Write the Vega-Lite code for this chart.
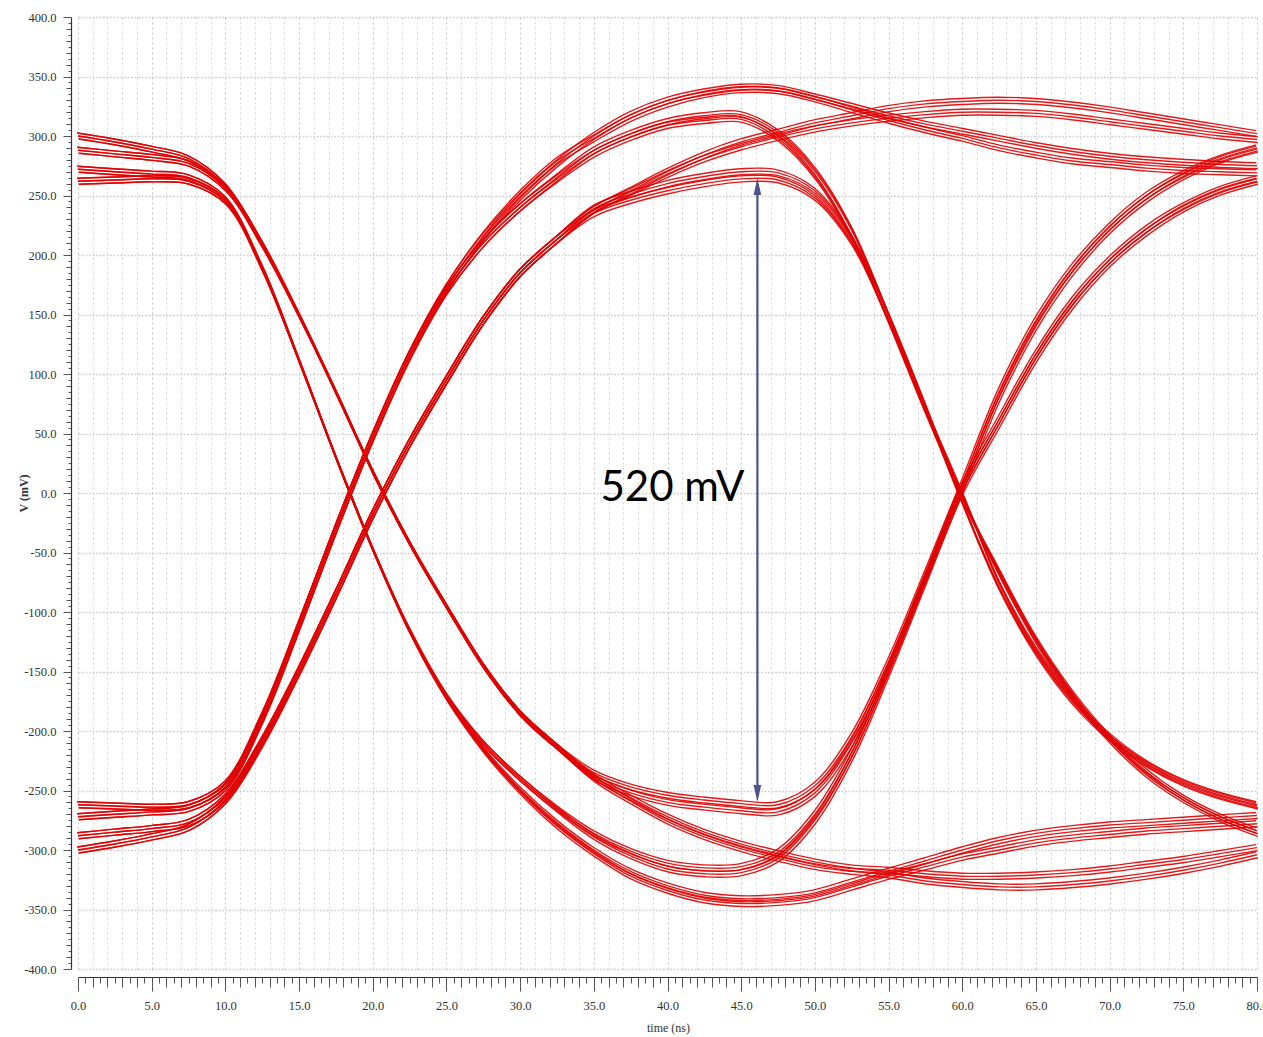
{
"$schema": "https://vega.github.io/schema/vega-lite/v6.json",
"width": 1179, "height": 952,
"autosize": {"type": "none"},
"padding": {"left": 78, "top": 17, "right": 6, "bottom": 68},
"background": "white",
"config": {"view": {"stroke": null}, "font": "Liberation Serif"},
"datasets": {
"ann": [{"t": 46.1, "v": 257.6, "v2": -252.5}],
"lab": [{"t": 35.45, "v": -7, "label": "520 mV"}],
"traces": [
{"s":"p1","t":0,"v":300},{"s":"p1","t":2.5,"v":295},{"s":"p1","t":5,"v":289},{"s":"p1","t":7.5,"v":281},{"s":"p1","t":10,"v":258},{"s":"p1","t":12.5,"v":210},{"s":"p1","t":15,"v":150},{"s":"p1","t":17.5,"v":85},{"s":"p1","t":20,"v":18},{"s":"p1","t":22.5,"v":-42},{"s":"p1","t":25,"v":-95},{"s":"p1","t":27.5,"v":-145},{"s":"p1","t":30,"v":-185},{"s":"p1","t":32.5,"v":-213},{"s":"p1","t":35,"v":-235},{"s":"p1","t":37.5,"v":-247},{"s":"p1","t":40,"v":-254},{"s":"p1","t":42.5,"v":-258},{"s":"p1","t":45,"v":-261},{"s":"p1","t":47.5,"v":-262},{"s":"p1","t":50,"v":-246},{"s":"p1","t":52.5,"v":-205},{"s":"p1","t":55,"v":-142},{"s":"p1","t":57.5,"v":-68},{"s":"p1","t":60,"v":8},{"s":"p1","t":62.5,"v":85},{"s":"p1","t":65,"v":145},{"s":"p1","t":67.5,"v":190},{"s":"p1","t":70,"v":224},{"s":"p1","t":72.5,"v":250},{"s":"p1","t":75,"v":268},{"s":"p1","t":77.5,"v":281},{"s":"p1","t":80,"v":290},
{"s":"p2","t":0,"v":288},{"s":"p2","t":2.5,"v":285},{"s":"p2","t":5,"v":282},{"s":"p2","t":7.5,"v":277},{"s":"p2","t":10,"v":256},{"s":"p2","t":12.5,"v":208},{"s":"p2","t":15,"v":149},{"s":"p2","t":17.5,"v":85},{"s":"p2","t":20,"v":18},{"s":"p2","t":22.5,"v":-42},{"s":"p2","t":25,"v":-95},{"s":"p2","t":27.5,"v":-145},{"s":"p2","t":30,"v":-185},{"s":"p2","t":32.5,"v":-213},{"s":"p2","t":35,"v":-239},{"s":"p2","t":37.5,"v":-252},{"s":"p2","t":40,"v":-260},{"s":"p2","t":42.5,"v":-264},{"s":"p2","t":45,"v":-267},{"s":"p2","t":47.5,"v":-268},{"s":"p2","t":50,"v":-252},{"s":"p2","t":52.5,"v":-210},{"s":"p2","t":55,"v":-146},{"s":"p2","t":57.5,"v":-71},{"s":"p2","t":60,"v":5},{"s":"p2","t":62.5,"v":62},{"s":"p2","t":65,"v":117},{"s":"p2","t":67.5,"v":162},{"s":"p2","t":70,"v":196},{"s":"p2","t":72.5,"v":222},{"s":"p2","t":75,"v":241},{"s":"p2","t":77.5,"v":255},{"s":"p2","t":80,"v":264},
{"s":"p3","t":0,"v":300},{"s":"p3","t":2.5,"v":295},{"s":"p3","t":5,"v":289},{"s":"p3","t":7.5,"v":281},{"s":"p3","t":10,"v":258},{"s":"p3","t":12.5,"v":210},{"s":"p3","t":15,"v":150},{"s":"p3","t":17.5,"v":85},{"s":"p3","t":20,"v":18},{"s":"p3","t":22.5,"v":-42},{"s":"p3","t":25,"v":-95},{"s":"p3","t":27.5,"v":-145},{"s":"p3","t":30,"v":-185},{"s":"p3","t":32.5,"v":-213},{"s":"p3","t":35,"v":-238},{"s":"p3","t":37.5,"v":-256},{"s":"p3","t":40,"v":-272},{"s":"p3","t":42.5,"v":-285},{"s":"p3","t":45,"v":-295},{"s":"p3","t":47.5,"v":-303},{"s":"p3","t":50,"v":-310},{"s":"p3","t":52.5,"v":-315},{"s":"p3","t":55,"v":-317},{"s":"p3","t":57.5,"v":-320},{"s":"p3","t":60,"v":-322},{"s":"p3","t":62.5,"v":-322},{"s":"p3","t":65,"v":-321},{"s":"p3","t":67.5,"v":-319},{"s":"p3","t":70,"v":-316},{"s":"p3","t":72.5,"v":-312},{"s":"p3","t":75,"v":-308},{"s":"p3","t":77.5,"v":-303},{"s":"p3","t":80,"v":-298},
{"s":"p4","t":0,"v":288},{"s":"p4","t":2.5,"v":285},{"s":"p4","t":5,"v":282},{"s":"p4","t":7.5,"v":277},{"s":"p4","t":10,"v":256},{"s":"p4","t":12.5,"v":208},{"s":"p4","t":15,"v":149},{"s":"p4","t":17.5,"v":85},{"s":"p4","t":20,"v":18},{"s":"p4","t":22.5,"v":-42},{"s":"p4","t":25,"v":-95},{"s":"p4","t":27.5,"v":-145},{"s":"p4","t":30,"v":-185},{"s":"p4","t":32.5,"v":-213},{"s":"p4","t":35,"v":-240},{"s":"p4","t":37.5,"v":-259},{"s":"p4","t":40,"v":-276},{"s":"p4","t":42.5,"v":-289},{"s":"p4","t":45,"v":-299},{"s":"p4","t":47.5,"v":-307},{"s":"p4","t":50,"v":-314},{"s":"p4","t":52.5,"v":-318},{"s":"p4","t":55,"v":-321},{"s":"p4","t":57.5,"v":-326},{"s":"p4","t":60,"v":-329},{"s":"p4","t":62.5,"v":-331},{"s":"p4","t":65,"v":-331},{"s":"p4","t":67.5,"v":-329},{"s":"p4","t":70,"v":-326},{"s":"p4","t":72.5,"v":-322},{"s":"p4","t":75,"v":-317},{"s":"p4","t":77.5,"v":-311},{"s":"p4","t":80,"v":-304},
{"s":"p5","t":0,"v":272},{"s":"p5","t":2.5,"v":270},{"s":"p5","t":5,"v":268},{"s":"p5","t":7.5,"v":265},{"s":"p5","t":10,"v":247},{"s":"p5","t":12.5,"v":190},{"s":"p5","t":15,"v":112},{"s":"p5","t":17.5,"v":30},{"s":"p5","t":20,"v":-47},{"s":"p5","t":22.5,"v":-115},{"s":"p5","t":25,"v":-170},{"s":"p5","t":27.5,"v":-210},{"s":"p5","t":30,"v":-240},{"s":"p5","t":32.5,"v":-265},{"s":"p5","t":35,"v":-286},{"s":"p5","t":37.5,"v":-301},{"s":"p5","t":40,"v":-311},{"s":"p5","t":42.5,"v":-315},{"s":"p5","t":45,"v":-314},{"s":"p5","t":47.5,"v":-302},{"s":"p5","t":50,"v":-270},{"s":"p5","t":52.5,"v":-218},{"s":"p5","t":55,"v":-148},{"s":"p5","t":57.5,"v":-72},{"s":"p5","t":60,"v":4},{"s":"p5","t":62.5,"v":80},{"s":"p5","t":65,"v":140},{"s":"p5","t":67.5,"v":186},{"s":"p5","t":70,"v":221},{"s":"p5","t":72.5,"v":247},{"s":"p5","t":75,"v":266},{"s":"p5","t":77.5,"v":280},{"s":"p5","t":80,"v":289},
{"s":"p6","t":0,"v":262},{"s":"p6","t":2.5,"v":263},{"s":"p6","t":5,"v":264},{"s":"p6","t":7.5,"v":262},{"s":"p6","t":10,"v":245},{"s":"p6","t":12.5,"v":188},{"s":"p6","t":15,"v":111},{"s":"p6","t":17.5,"v":30},{"s":"p6","t":20,"v":-47},{"s":"p6","t":22.5,"v":-115},{"s":"p6","t":25,"v":-170},{"s":"p6","t":27.5,"v":-210},{"s":"p6","t":30,"v":-240},{"s":"p6","t":32.5,"v":-266},{"s":"p6","t":35,"v":-289},{"s":"p6","t":37.5,"v":-305},{"s":"p6","t":40,"v":-316},{"s":"p6","t":42.5,"v":-320},{"s":"p6","t":45,"v":-319},{"s":"p6","t":47.5,"v":-307},{"s":"p6","t":50,"v":-275},{"s":"p6","t":52.5,"v":-222},{"s":"p6","t":55,"v":-151},{"s":"p6","t":57.5,"v":-74},{"s":"p6","t":60,"v":2},{"s":"p6","t":62.5,"v":58},{"s":"p6","t":65,"v":113},{"s":"p6","t":67.5,"v":158},{"s":"p6","t":70,"v":193},{"s":"p6","t":72.5,"v":219},{"s":"p6","t":75,"v":239},{"s":"p6","t":77.5,"v":253},{"s":"p6","t":80,"v":262},
{"s":"p7","t":0,"v":272},{"s":"p7","t":2.5,"v":270},{"s":"p7","t":5,"v":268},{"s":"p7","t":7.5,"v":265},{"s":"p7","t":10,"v":247},{"s":"p7","t":12.5,"v":190},{"s":"p7","t":15,"v":112},{"s":"p7","t":17.5,"v":30},{"s":"p7","t":20,"v":-47},{"s":"p7","t":22.5,"v":-116},{"s":"p7","t":25,"v":-172},{"s":"p7","t":27.5,"v":-215},{"s":"p7","t":30,"v":-249},{"s":"p7","t":32.5,"v":-277},{"s":"p7","t":35,"v":-300},{"s":"p7","t":37.5,"v":-318},{"s":"p7","t":40,"v":-330},{"s":"p7","t":42.5,"v":-338},{"s":"p7","t":45,"v":-341},{"s":"p7","t":47.5,"v":-340},{"s":"p7","t":50,"v":-336},{"s":"p7","t":52.5,"v":-327},{"s":"p7","t":55,"v":-318},{"s":"p7","t":57.5,"v":-309},{"s":"p7","t":60,"v":-300},{"s":"p7","t":62.5,"v":-292},{"s":"p7","t":65,"v":-286},{"s":"p7","t":67.5,"v":-282},{"s":"p7","t":70,"v":-279},{"s":"p7","t":72.5,"v":-277},{"s":"p7","t":75,"v":-275},{"s":"p7","t":77.5,"v":-273},{"s":"p7","t":80,"v":-271},
{"s":"p8","t":0,"v":262},{"s":"p8","t":2.5,"v":263},{"s":"p8","t":5,"v":264},{"s":"p8","t":7.5,"v":262},{"s":"p8","t":10,"v":245},{"s":"p8","t":12.5,"v":188},{"s":"p8","t":15,"v":111},{"s":"p8","t":17.5,"v":30},{"s":"p8","t":20,"v":-47},{"s":"p8","t":22.5,"v":-116},{"s":"p8","t":25,"v":-172},{"s":"p8","t":27.5,"v":-216},{"s":"p8","t":30,"v":-251},{"s":"p8","t":32.5,"v":-280},{"s":"p8","t":35,"v":-303},{"s":"p8","t":37.5,"v":-322},{"s":"p8","t":40,"v":-334},{"s":"p8","t":42.5,"v":-342},{"s":"p8","t":45,"v":-345},{"s":"p8","t":47.5,"v":-344},{"s":"p8","t":50,"v":-340},{"s":"p8","t":52.5,"v":-331},{"s":"p8","t":55,"v":-322},{"s":"p8","t":57.5,"v":-314},{"s":"p8","t":60,"v":-306},{"s":"p8","t":62.5,"v":-300},{"s":"p8","t":65,"v":-294},{"s":"p8","t":67.5,"v":-290},{"s":"p8","t":70,"v":-287},{"s":"p8","t":72.5,"v":-284},{"s":"p8","t":75,"v":-282},{"s":"p8","t":77.5,"v":-280},{"s":"p8","t":80,"v":-278},
{"s":"p9","t":0,"v":-300},{"s":"p9","t":2.5,"v":-295},{"s":"p9","t":5,"v":-289},{"s":"p9","t":7.5,"v":-281},{"s":"p9","t":10,"v":-258},{"s":"p9","t":12.5,"v":-210},{"s":"p9","t":15,"v":-150},{"s":"p9","t":17.5,"v":-85},{"s":"p9","t":20,"v":-18},{"s":"p9","t":22.5,"v":42},{"s":"p9","t":25,"v":95},{"s":"p9","t":27.5,"v":145},{"s":"p9","t":30,"v":185},{"s":"p9","t":32.5,"v":213},{"s":"p9","t":35,"v":235},{"s":"p9","t":37.5,"v":246},{"s":"p9","t":40,"v":254},{"s":"p9","t":42.5,"v":260},{"s":"p9","t":45,"v":264},{"s":"p9","t":47.5,"v":263},{"s":"p9","t":50,"v":248},{"s":"p9","t":52.5,"v":210},{"s":"p9","t":55,"v":145},{"s":"p9","t":57.5,"v":70},{"s":"p9","t":60,"v":-8},{"s":"p9","t":62.5,"v":-80},{"s":"p9","t":65,"v":-135},{"s":"p9","t":67.5,"v":-176},{"s":"p9","t":70,"v":-206},{"s":"p9","t":72.5,"v":-228},{"s":"p9","t":75,"v":-244},{"s":"p9","t":77.5,"v":-255},{"s":"p9","t":80,"v":-263},
{"s":"p10","t":0,"v":-288},{"s":"p10","t":2.5,"v":-285},{"s":"p10","t":5,"v":-282},{"s":"p10","t":7.5,"v":-277},{"s":"p10","t":10,"v":-256},{"s":"p10","t":12.5,"v":-208},{"s":"p10","t":15,"v":-149},{"s":"p10","t":17.5,"v":-85},{"s":"p10","t":20,"v":-18},{"s":"p10","t":22.5,"v":42},{"s":"p10","t":25,"v":95},{"s":"p10","t":27.5,"v":145},{"s":"p10","t":30,"v":185},{"s":"p10","t":32.5,"v":213},{"s":"p10","t":35,"v":239},{"s":"p10","t":37.5,"v":251},{"s":"p10","t":40,"v":260},{"s":"p10","t":42.5,"v":266},{"s":"p10","t":45,"v":270},{"s":"p10","t":47.5,"v":269},{"s":"p10","t":50,"v":254},{"s":"p10","t":52.5,"v":215},{"s":"p10","t":55,"v":150},{"s":"p10","t":57.5,"v":74},{"s":"p10","t":60,"v":-5},{"s":"p10","t":62.5,"v":-65},{"s":"p10","t":65,"v":-122},{"s":"p10","t":67.5,"v":-168},{"s":"p10","t":70,"v":-205},{"s":"p10","t":72.5,"v":-234},{"s":"p10","t":75,"v":-256},{"s":"p10","t":77.5,"v":-272},{"s":"p10","t":80,"v":-284},
{"s":"p11","t":0,"v":-300},{"s":"p11","t":2.5,"v":-295},{"s":"p11","t":5,"v":-289},{"s":"p11","t":7.5,"v":-281},{"s":"p11","t":10,"v":-258},{"s":"p11","t":12.5,"v":-210},{"s":"p11","t":15,"v":-150},{"s":"p11","t":17.5,"v":-85},{"s":"p11","t":20,"v":-18},{"s":"p11","t":22.5,"v":42},{"s":"p11","t":25,"v":95},{"s":"p11","t":27.5,"v":145},{"s":"p11","t":30,"v":185},{"s":"p11","t":32.5,"v":213},{"s":"p11","t":35,"v":238},{"s":"p11","t":37.5,"v":254},{"s":"p11","t":40,"v":270},{"s":"p11","t":42.5,"v":284},{"s":"p11","t":45,"v":295},{"s":"p11","t":47.5,"v":303},{"s":"p11","t":50,"v":311},{"s":"p11","t":52.5,"v":317},{"s":"p11","t":55,"v":323},{"s":"p11","t":57.5,"v":327},{"s":"p11","t":60,"v":329},{"s":"p11","t":62.5,"v":330},{"s":"p11","t":65,"v":329},{"s":"p11","t":67.5,"v":326},{"s":"p11","t":70,"v":322},{"s":"p11","t":72.5,"v":317},{"s":"p11","t":75,"v":312},{"s":"p11","t":77.5,"v":307},{"s":"p11","t":80,"v":302},
{"s":"p12","t":0,"v":-288},{"s":"p12","t":2.5,"v":-285},{"s":"p12","t":5,"v":-282},{"s":"p12","t":7.5,"v":-277},{"s":"p12","t":10,"v":-256},{"s":"p12","t":12.5,"v":-208},{"s":"p12","t":15,"v":-149},{"s":"p12","t":17.5,"v":-85},{"s":"p12","t":20,"v":-18},{"s":"p12","t":22.5,"v":42},{"s":"p12","t":25,"v":95},{"s":"p12","t":27.5,"v":145},{"s":"p12","t":30,"v":185},{"s":"p12","t":32.5,"v":213},{"s":"p12","t":35,"v":238},{"s":"p12","t":37.5,"v":253},{"s":"p12","t":40,"v":268},{"s":"p12","t":42.5,"v":281},{"s":"p12","t":45,"v":291},{"s":"p12","t":47.5,"v":299},{"s":"p12","t":50,"v":306},{"s":"p12","t":52.5,"v":311},{"s":"p12","t":55,"v":315},{"s":"p12","t":57.5,"v":318},{"s":"p12","t":60,"v":320},{"s":"p12","t":62.5,"v":320},{"s":"p12","t":65,"v":319},{"s":"p12","t":67.5,"v":316},{"s":"p12","t":70,"v":312},{"s":"p12","t":72.5,"v":308},{"s":"p12","t":75,"v":304},{"s":"p12","t":77.5,"v":300},{"s":"p12","t":80,"v":297},
{"s":"p13","t":0,"v":-272},{"s":"p13","t":2.5,"v":-270},{"s":"p13","t":5,"v":-268},{"s":"p13","t":7.5,"v":-265},{"s":"p13","t":10,"v":-247},{"s":"p13","t":12.5,"v":-190},{"s":"p13","t":15,"v":-112},{"s":"p13","t":17.5,"v":-30},{"s":"p13","t":20,"v":47},{"s":"p13","t":22.5,"v":115},{"s":"p13","t":25,"v":170},{"s":"p13","t":27.5,"v":210},{"s":"p13","t":30,"v":240},{"s":"p13","t":32.5,"v":265},{"s":"p13","t":35,"v":288},{"s":"p13","t":37.5,"v":302},{"s":"p13","t":40,"v":312},{"s":"p13","t":42.5,"v":317},{"s":"p13","t":45,"v":318},{"s":"p13","t":47.5,"v":303},{"s":"p13","t":50,"v":272},{"s":"p13","t":52.5,"v":222},{"s":"p13","t":55,"v":150},{"s":"p13","t":57.5,"v":72},{"s":"p13","t":60,"v":0},{"s":"p13","t":62.5,"v":-75},{"s":"p13","t":65,"v":-131},{"s":"p13","t":67.5,"v":-173},{"s":"p13","t":70,"v":-204},{"s":"p13","t":72.5,"v":-227},{"s":"p13","t":75,"v":-243},{"s":"p13","t":77.5,"v":-254},{"s":"p13","t":80,"v":-262},
{"s":"p14","t":0,"v":-262},{"s":"p14","t":2.5,"v":-263},{"s":"p14","t":5,"v":-264},{"s":"p14","t":7.5,"v":-262},{"s":"p14","t":10,"v":-245},{"s":"p14","t":12.5,"v":-188},{"s":"p14","t":15,"v":-111},{"s":"p14","t":17.5,"v":-30},{"s":"p14","t":20,"v":47},{"s":"p14","t":22.5,"v":115},{"s":"p14","t":25,"v":170},{"s":"p14","t":27.5,"v":210},{"s":"p14","t":30,"v":240},{"s":"p14","t":32.5,"v":264},{"s":"p14","t":35,"v":285},{"s":"p14","t":37.5,"v":299},{"s":"p14","t":40,"v":309},{"s":"p14","t":42.5,"v":313},{"s":"p14","t":45,"v":314},{"s":"p14","t":47.5,"v":298},{"s":"p14","t":50,"v":266},{"s":"p14","t":52.5,"v":215},{"s":"p14","t":55,"v":144},{"s":"p14","t":57.5,"v":68},{"s":"p14","t":60,"v":-3},{"s":"p14","t":62.5,"v":-68},{"s":"p14","t":65,"v":-125},{"s":"p14","t":67.5,"v":-171},{"s":"p14","t":70,"v":-208},{"s":"p14","t":72.5,"v":-237},{"s":"p14","t":75,"v":-258},{"s":"p14","t":77.5,"v":-274},{"s":"p14","t":80,"v":-286},
{"s":"p15","t":0,"v":-272},{"s":"p15","t":2.5,"v":-270},{"s":"p15","t":5,"v":-268},{"s":"p15","t":7.5,"v":-265},{"s":"p15","t":10,"v":-247},{"s":"p15","t":12.5,"v":-190},{"s":"p15","t":15,"v":-112},{"s":"p15","t":17.5,"v":-30},{"s":"p15","t":20,"v":47},{"s":"p15","t":22.5,"v":116},{"s":"p15","t":25,"v":172},{"s":"p15","t":27.5,"v":215},{"s":"p15","t":30,"v":249},{"s":"p15","t":32.5,"v":277},{"s":"p15","t":35,"v":300},{"s":"p15","t":37.5,"v":318},{"s":"p15","t":40,"v":330},{"s":"p15","t":42.5,"v":337},{"s":"p15","t":45,"v":341},{"s":"p15","t":47.5,"v":340},{"s":"p15","t":50,"v":333},{"s":"p15","t":52.5,"v":325},{"s":"p15","t":55,"v":317},{"s":"p15","t":57.5,"v":310},{"s":"p15","t":60,"v":304},{"s":"p15","t":62.5,"v":298},{"s":"p15","t":65,"v":292},{"s":"p15","t":67.5,"v":287},{"s":"p15","t":70,"v":283},{"s":"p15","t":72.5,"v":280},{"s":"p15","t":75,"v":278},{"s":"p15","t":77.5,"v":276},{"s":"p15","t":80,"v":275},
{"s":"p16","t":0,"v":-262},{"s":"p16","t":2.5,"v":-263},{"s":"p16","t":5,"v":-264},{"s":"p16","t":7.5,"v":-262},{"s":"p16","t":10,"v":-245},{"s":"p16","t":12.5,"v":-188},{"s":"p16","t":15,"v":-111},{"s":"p16","t":17.5,"v":-30},{"s":"p16","t":20,"v":47},{"s":"p16","t":22.5,"v":116},{"s":"p16","t":25,"v":172},{"s":"p16","t":27.5,"v":216},{"s":"p16","t":30,"v":251},{"s":"p16","t":32.5,"v":279},{"s":"p16","t":35,"v":298},{"s":"p16","t":37.5,"v":315},{"s":"p16","t":40,"v":327},{"s":"p16","t":42.5,"v":335},{"s":"p16","t":45,"v":339},{"s":"p16","t":47.5,"v":338},{"s":"p16","t":50,"v":331},{"s":"p16","t":52.5,"v":322},{"s":"p16","t":55,"v":313},{"s":"p16","t":57.5,"v":305},{"s":"p16","t":60,"v":298},{"s":"p16","t":62.5,"v":290},{"s":"p16","t":65,"v":284},{"s":"p16","t":67.5,"v":279},{"s":"p16","t":70,"v":276},{"s":"p16","t":72.5,"v":273},{"s":"p16","t":75,"v":271},{"s":"p16","t":77.5,"v":270},{"s":"p16","t":80,"v":269}
]
},
"encoding": {
"x": {"field": "t", "type": "quantitative", "scale": {"domain": [0, 80], "nice": false, "zero": false},
"axis": {"title": "time (ns)", "tickCount": 160,
"labelExpr": "datum.value % 5 == 0 ? format(datum.value, '.1f') : ''",
"labelOverlap": false, "labelBound": false, "labelFlush": false,
"labelFont": "Liberation Serif", "labelFontSize": 12.5, "labelColor": "#333", "labelPadding": 8,
"offset": 8, "domainColor": "#333", "domainWidth": 1.2, "tickColor": "#555", "tickWidth": 1,
"tickSize": {"condition": [{"test": "datum.value % 5 == 0", "value": 14}, {"test": "datum.value % 1 == 0", "value": 10}], "value": 6},
"grid": true,
"gridColor": {"condition": {"test": "datum.value % 5 == 0", "value": "#c4c4c4"}, "value": "#d6d6d6"},
"gridDash": [2, 3], "gridWidth": 1,
"gridOpacity": {"condition": {"test": "datum.value % 1 != 0", "value": 0}, "value": 1},
"titleFont": "Liberation Serif", "titleFontSize": 12, "titleFontWeight": "normal", "titleColor": "#333",
"titleX": 590, "titleY": 50, "titleBaseline": "middle", "titleAlign": "center"}},
"y": {"field": "v", "type": "quantitative", "scale": {"domain": [-400, 400], "nice": false, "zero": false},
"axis": {"title": "V (mV)", "tickCount": 160,
"labelExpr": "datum.value % 50 == 0 ? (datum.value < 0 ? '-' : '') + format(abs(datum.value), '.1f') : ''",
"labelOverlap": false, "labelBound": false, "labelFlush": false,
"labelFont": "Liberation Serif", "labelFontSize": 12.5, "labelColor": "#333", "labelPadding": 7,
"offset": 7, "domainColor": "#333", "domainWidth": 1.2, "tickColor": "#555", "tickWidth": 1,
"tickSize": {"condition": [{"test": "datum.value % 50 == 0", "value": 8}, {"test": "datum.value % 10 == 0", "value": 5}], "value": 3},
"grid": true, "gridColor": "#d2d2d2", "gridDash": [2, 1.5], "gridWidth": 1.5,
"gridOpacity": {"condition": {"test": "datum.value % 50 != 0", "value": 0}, "value": 1},
"titleFont": "Liberation Serif", "titleFontSize": 12, "titleFontWeight": "bold", "titleColor": "#333",
"titleX": -48, "titleY": 476, "titleAngle": 270, "titleAlign": "center", "titleBaseline": "middle"}}
},
"layer": [
{
"data": {"name": "traces"},
"mark": {"type": "line", "interpolate": "catmull-rom", "color": "#e00000", "strokeWidth": 1.4, "opacity": 0.9, "yOffset": -3, "xOffset": -0.8},
"encoding": {"detail": {"field": "s"}}
},
{
"data": {"name": "traces"},
"mark": {"type": "line", "interpolate": "catmull-rom", "color": "#e00000", "strokeWidth": 1.4, "opacity": 0.9},
"encoding": {"detail": {"field": "s"}}
},
{
"data": {"name": "traces"},
"mark": {"type": "line", "interpolate": "catmull-rom", "color": "#e00000", "strokeWidth": 1.4, "opacity": 0.9, "yOffset": 3, "xOffset": 0.8},
"encoding": {"detail": {"field": "s"}}
},
{
"data": {"name": "ann"},
"mark": {"type": "rule", "color": "#4d5290", "strokeWidth": 2.2},
"encoding": {"y2": {"field": "v2"}}
},
{
"data": {"name": "ann"},
"mark": {"type": "point", "shape": "M0,-1L0.45,1L-0.45,1Z", "size": 289, "filled": true, "color": "#4d5290", "opacity": 1}
},
{
"data": {"name": "ann"},
"mark": {"type": "point", "shape": "M0,1L0.45,-1L-0.45,-1Z", "size": 289, "filled": true, "color": "#4d5290", "opacity": 1},
"encoding": {"y": {"field": "v2", "type": "quantitative"}}
},
{
"data": {"name": "lab"},
"mark": {"type": "text", "font": "Lato", "fontSize": 42, "color": "#000", "align": "left", "baseline": "alphabetic"},
"encoding": {"text": {"field": "label"}}
}
]
}
